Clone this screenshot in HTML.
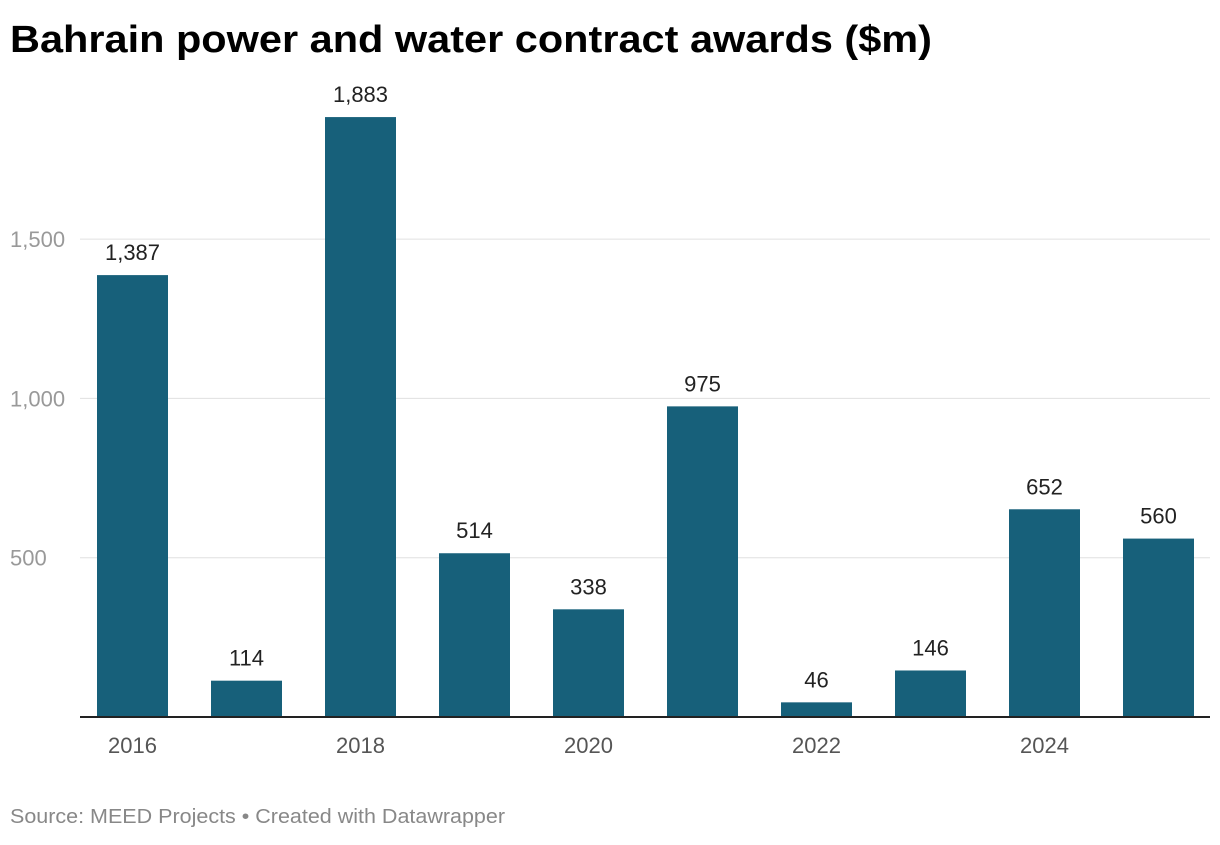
<!DOCTYPE html>
<html><head><meta charset="utf-8"><style>
body{margin:0;background:#fff;width:1220px;height:840px;overflow:hidden;font-family:"Liberation Sans",sans-serif}
</style></head><body>
<svg width="1220" height="840">
<text x="10" y="52" font-size="38" font-weight="bold" fill="#000" textLength="922" lengthAdjust="spacingAndGlyphs">Bahrain power and water contract awards ($m)</text>
<g id="grid"></g><g id="bars"></g>
<text x="10" y="823" font-size="20" fill="#888" textLength="495" lengthAdjust="spacingAndGlyphs">Source: MEED Projects • Created with Datawrapper</text>
</svg>
<script>
const categories=["2016","2017","2018","2019","2020","2021","2022","2023","2024","2025"];
const values=[1387,114,1883,514,338,975,46,146,652,560];
const valueLabels=["1,387","114","1,883","514","338","975","46","146","652","560"];
const yTicks=[500,1000,1500];
const yTickLabels=["500","1,000","1,500"];
const NS="http://www.w3.org/2000/svg";
const base=717,ppu=159.3/500;
const y=v=>base-v*ppu;
const x=i=>97+i*114;
const bw=71;
function mk(t,a,p){const e=document.createElementNS(NS,t);for(const k in a)e.setAttribute(k,a[k]);p.appendChild(e);return e;}
const g=document.getElementById('grid'),b=document.getElementById('bars');
yTicks.forEach((t,i)=>{
 const l=mk('line',{x1:80,x2:1210,y1:y(t),y2:y(t),stroke:'#e0e0e0','stroke-width':1},g);
 
 
 const tx=mk('text',{x:10,y:y(t)+8,'font-size':22,fill:'#999'},g);tx.textContent=yTickLabels[i];
 
 
});
values.forEach((v,i)=>{
 const r=mk('rect',{x:x(i),y:y(v),width:bw,height:base-y(v),fill:'#17607a'},b);
 
 
 const t=mk('text',{x:x(i)+bw/2,y:y(v)-15,'font-size':22,fill:'#222','text-anchor':'middle'},b);t.textContent=valueLabels[i];
 
 
 if(i%2==0){const c=mk('text',{x:x(i)+bw/2,y:753,'font-size':22,fill:'#555','text-anchor':'middle'},b);c.textContent=categories[i];
 
 }
});
const ax=mk('line',{x1:80,x2:1210,y1:base,y2:base,stroke:'#222','stroke-width':2},b);


</script>
</body></html>
